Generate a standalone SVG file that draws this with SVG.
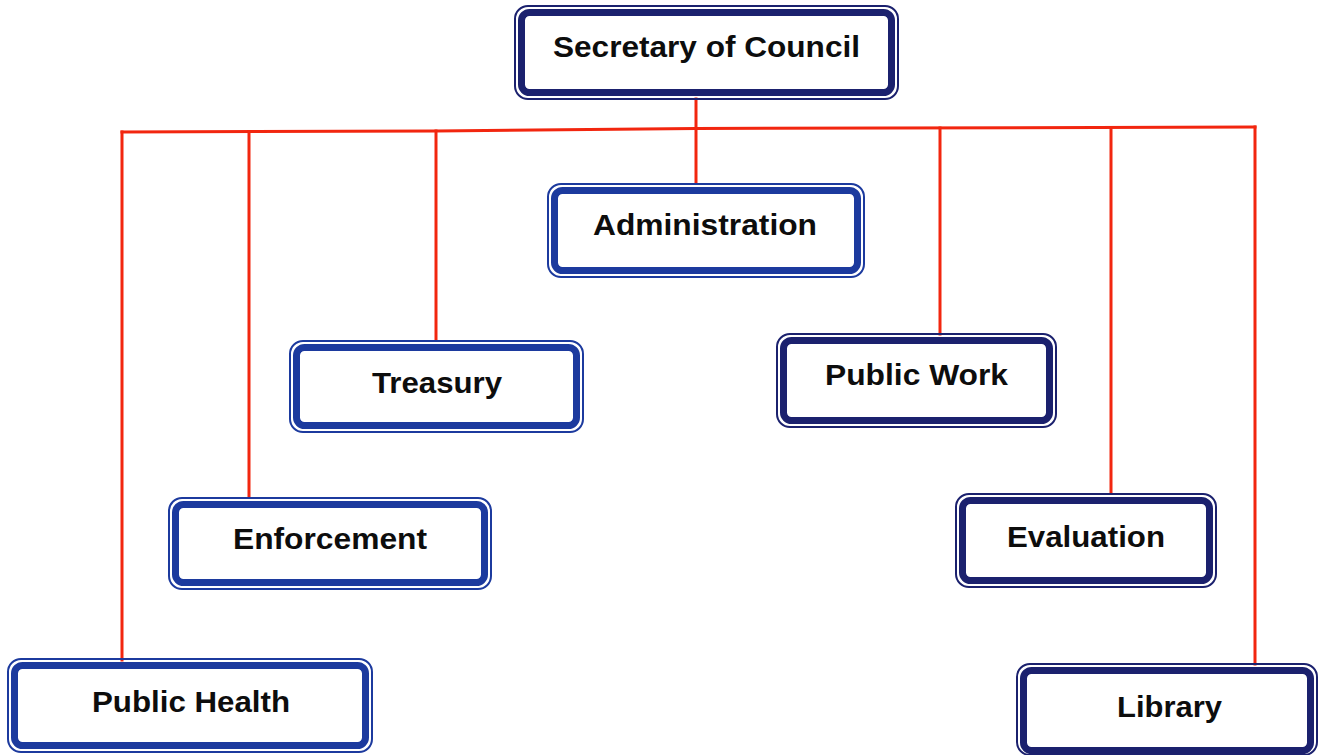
<svg xmlns="http://www.w3.org/2000/svg" width="1319" height="755" viewBox="0 0 1319 755">
  <style>
    .rim { fill: none; stroke-width: 2; }
    .band { fill: #ffffff; stroke-width: 7; }
    .blue .rim, .blue .band { stroke: #1c3a9e; }
    .navy .rim, .navy .band { stroke: #1b216e; }
    .label { font-family: "Liberation Sans", Arial, sans-serif; font-weight: bold; font-size: 29px; fill: #0d0d0d; text-anchor: middle; }
    .wire { stroke: #f2260f; stroke-width: 3; fill: none; stroke-linecap: square; }
  </style>
  <rect width="1319" height="755" fill="#ffffff"/>

  <!-- connectors -->
  <g id="connectors">
    <path class="wire" d="M122 132 L436 131 L696 128.5 L1255 127"/>
    <line class="wire" x1="696" y1="99" x2="696" y2="183"/>
    <line class="wire" x1="122" y1="132" x2="122" y2="660"/>
    <line class="wire" x1="249" y1="131.5" x2="249" y2="497"/>
    <line class="wire" x1="436" y1="131" x2="436" y2="340"/>
    <line class="wire" x1="940" y1="128" x2="940" y2="334"/>
    <line class="wire" x1="1111" y1="127.5" x2="1111" y2="493"/>
    <line class="wire" x1="1255" y1="127" x2="1255" y2="664"/>
  </g>

  <!-- nodes -->
  <g id="secretary" class="navy">
    <rect class="rim" x="515" y="6" width="383" height="93" rx="13"/>
    <rect class="band" x="521.5" y="12.5" width="370" height="80" rx="8"/>
    <text class="label" x="706.5" y="57" textLength="307" lengthAdjust="spacingAndGlyphs">Secretary of Council</text>
  </g>
  <g id="administration" class="blue">
    <rect class="rim" x="548" y="184" width="316" height="93" rx="13"/>
    <rect class="band" x="554.5" y="190.5" width="303" height="80" rx="8"/>
    <text class="label" x="705" y="235" textLength="224" lengthAdjust="spacingAndGlyphs">Administration</text>
  </g>
  <g id="treasury" class="blue">
    <rect class="rim" x="290" y="341" width="293" height="91" rx="13"/>
    <rect class="band" x="296.5" y="347.5" width="280" height="78" rx="8"/>
    <text class="label" x="437" y="393" textLength="130" lengthAdjust="spacingAndGlyphs">Treasury</text>
  </g>
  <g id="public-work" class="navy">
    <rect class="rim" x="777" y="334" width="279" height="93" rx="13"/>
    <rect class="band" x="783.5" y="340.5" width="266" height="80" rx="8"/>
    <text class="label" x="916.5" y="385" textLength="183" lengthAdjust="spacingAndGlyphs">Public Work</text>
  </g>
  <g id="enforcement" class="blue">
    <rect class="rim" x="169" y="498" width="322" height="91" rx="13"/>
    <rect class="band" x="175.5" y="504.5" width="309" height="78" rx="8"/>
    <text class="label" x="330" y="549" textLength="194" lengthAdjust="spacingAndGlyphs">Enforcement</text>
  </g>
  <g id="evaluation" class="navy">
    <rect class="rim" x="956" y="494" width="260" height="93" rx="13"/>
    <rect class="band" x="962.5" y="500.5" width="247" height="80" rx="8"/>
    <text class="label" x="1086" y="547" textLength="158" lengthAdjust="spacingAndGlyphs">Evaluation</text>
  </g>
  <g id="public-health" class="blue">
    <rect class="rim" x="8" y="659" width="364" height="93" rx="13"/>
    <rect class="band" x="14.5" y="665.5" width="351" height="80" rx="8"/>
    <text class="label" x="191" y="712" textLength="198" lengthAdjust="spacingAndGlyphs">Public Health</text>
  </g>
  <g id="library" class="navy">
    <rect class="rim" x="1017" y="664" width="300" height="91" rx="13"/>
    <rect class="band" x="1023.5" y="670.5" width="287" height="80" rx="8"/>
    <text class="label" x="1169.5" y="717" textLength="105" lengthAdjust="spacingAndGlyphs">Library</text>
  </g>
</svg>
